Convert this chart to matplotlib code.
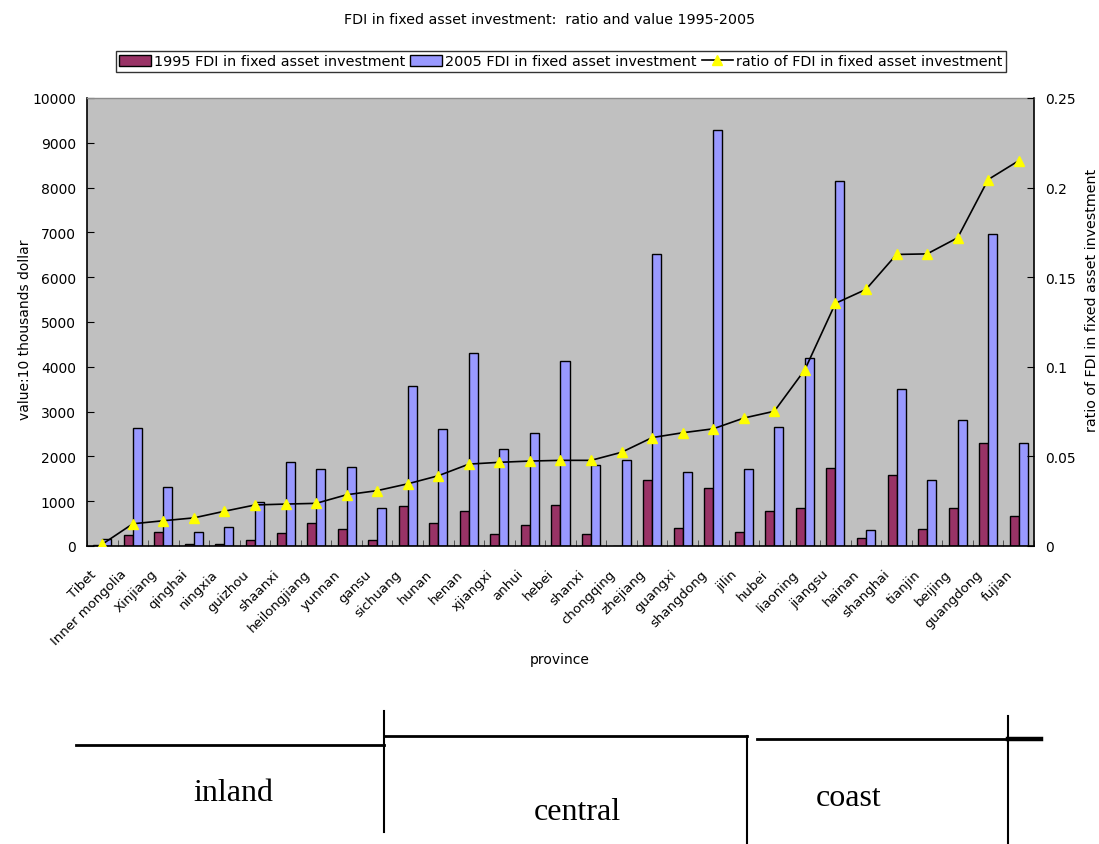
import matplotlib
matplotlib.use("Agg")
import matplotlib.pyplot as plt
import matplotlib.transforms as mtransforms
import numpy as np
from matplotlib.lines import Line2D
from matplotlib.patches import Patch
from matplotlib.ticker import FuncFormatter, MultipleLocator, FixedLocator

# Provinces ordered by the FDI share of fixed asset investment
provinces = ["Tibet", "Inner mongolia", "Xinjiang", "qinghai", "ningxia", "guizhou",
             "shaanxi", "heilongjiang", "yunnan", "gansu", "sichuang", "hunan", "henan",
             "xjiangxi", "anhui", "hebei", "shanxi", "chongqing", "zhejiang", "guangxi",
             "shangdong", "jilin", "hubei", "liaoning", "jiangsu", "hainan", "shanghai",
             "tianjin", "beijing", "guangdong", "fujian"]

# FDI in fixed asset investment, 10 thousand dollars
fdi_1995 = [20, 235, 320, 45, 50, 140, 300, 510, 380, 125, 895, 515, 778, 275, 470,
            908, 262, 0, 1472, 396, 1300, 308, 776, 856, 1750, 172, 1586, 385, 856,
            2300, 672]
fdi_2005 = [150, 2630, 1325, 308, 432, 990, 1870, 1727, 1765, 857, 3580, 2620, 4300,
            2168, 2516, 4130, 1818, 1922, 6525, 1647, 9295, 1727, 2665, 4192, 8152,
            352, 3498, 1481, 2814, 6965, 2302]

# Ratio of FDI in fixed asset investment
fdi_ratio = [0.001, 0.0124, 0.0141, 0.0157, 0.0194, 0.0229, 0.0234, 0.0238, 0.0286,
             0.0309, 0.0347, 0.0392, 0.0457, 0.0467, 0.0474, 0.0478, 0.0478, 0.0523,
             0.0605, 0.0632, 0.0654, 0.0714, 0.0752, 0.0984, 0.1354, 0.1432, 0.1627,
             0.1630, 0.1720, 0.2045, 0.2150]

regions = ["inland", "central", "coast"]

plt.rcParams["font.family"] = ["DejaVu Sans"]
W, H = 1099, 845
fig = plt.figure(figsize=(W / 100, H / 100), dpi=100)


def fx(px):
    return px / W


def fy(py):
    return 1 - py / H


ax = fig.add_axes([fx(87), fy(547), fx(1034) - fx(87), fy(99) - fy(547)])
ax.set_facecolor("#C0C0C0")

x = np.arange(len(provinces))
bw = 0.295
c95, c05 = "#993366", "#9999FF"
ax.bar(x - bw / 2, fdi_1995, width=bw, color=c95, edgecolor="black", linewidth=1.0, zorder=2)
ax.bar(x + bw / 2, fdi_2005, width=bw, color=c05, edgecolor="black", linewidth=1.0, zorder=2)

ax.set_xlim(-0.5, len(provinces) - 0.5)
ax.set_ylim(0, 10000)
ax.yaxis.set_major_locator(MultipleLocator(1000))

# Category names: slanted labels hung just left of each category centre
ax.set_xticks(x)
ax.set_xticklabels([])
label_tr = ax.get_xaxis_transform() + mtransforms.ScaledTranslation(
    -13 / 100, -21 / 100, fig.dpi_scale_trans)
for xi, name in zip(x, provinces):
    ax.text(xi, 0, name, transform=label_tr, rotation=45, ha="right", va="top",
            rotation_mode="anchor", fontsize=9.5, clip_on=False)

ax.xaxis.set_minor_locator(FixedLocator(np.arange(-0.5, len(provinces), 1.0)))
ax.tick_params(axis="x", which="major", length=0)
ax.tick_params(axis="x", which="minor", length=4, direction="in", color="#404040")
ax.tick_params(axis="y", direction="in", length=5, labelsize=10, pad=8)

for side in ("left", "right", "bottom"):
    ax.spines[side].set_color("black")
    ax.spines[side].set_linewidth(1.2)
ax.spines["top"].set_color("#8c8c8c")
ax.spines["top"].set_linewidth(1.0)

ax.set_ylabel("value:10 thousands dollar", fontsize=10)
ax.yaxis.set_label_coords(fx(32), fy(330), transform=fig.transFigure)
ax.set_xlabel("province", fontsize=10)
ax.xaxis.set_label_coords(fx(560), fy(653), transform=fig.transFigure)

ax2 = ax.twinx()
ax2.plot(x, fdi_ratio, color="black", linewidth=1.2, marker="^", markersize=7.5,
         markerfacecolor="#FFFF00", markeredgecolor="#FFFF00", zorder=3)
ax2.set_ylim(0, 0.25)
ax2.yaxis.set_major_locator(MultipleLocator(0.05))
ax2.yaxis.set_major_formatter(FuncFormatter(lambda v, p: "%g" % round(v, 2)))
ax2.tick_params(axis="y", direction="in", length=5, labelsize=10, pad=8)
ax2.set_ylabel("ratio of FDI in fixed asset investment", fontsize=10.3)
ax2.yaxis.set_label_coords(fx(1085), fy(300), transform=fig.transFigure)
for s in ax2.spines.values():
    s.set_visible(False)

fig.text(0.5, fy(20), "FDI in fixed asset investment:  ratio and value 1995-2005",
         ha="center", va="center", fontsize=10.3)

handles = [Patch(facecolor=c95, edgecolor="black", linewidth=1.0),
           Patch(facecolor=c05, edgecolor="black", linewidth=1.0),
           Line2D([], [], color="black", linewidth=1.2, marker="^", markersize=7,
                  markerfacecolor="#FFFF00", markeredgecolor="#FFFF00")]
labels = ["1995 FDI in fixed asset investment", "2005 FDI in fixed asset investment",
          "ratio of FDI in fixed asset investment"]
leg = fig.legend(handles, labels, loc="center", bbox_to_anchor=(fx(561), fy(62.5)),
                 ncol=3, fontsize=10.4, frameon=True, fancybox=False, handlelength=2.2,
                 handleheight=0.7, handletextpad=0.2, columnspacing=0.35, borderpad=0.25,
                 borderaxespad=0)
leg.get_frame().set_edgecolor("black")
leg.get_frame().set_linewidth(1.0)

# Regional grouping bracket drawn beneath the chart
segments = [
    ((76, 746), (384, 746), 2.0),
    ((384, 712), (384, 833), 1.5),
    ((384, 737), (747, 737), 2.0),
    ((747, 737), (747, 845), 1.5),
    ((757, 739.5), (1008, 739.5), 2.0),
    ((1008, 740), (1041, 740), 3.2),
    ((1008, 717), (1008, 845), 1.5),
]
for (x0, y0), (x1, y1), lw in segments:
    fig.add_artist(Line2D([fx(x0), fx(x1)], [fy(y0), fy(y1)], transform=fig.transFigure,
                          color="black", linewidth=lw))

region_pos = [(233, 801), (577, 820), (849, 806)]
for name, (px, py) in zip(regions, region_pos):
    fig.text(fx(px), fy(py), name, ha="center", va="baseline", fontsize=23,
             family="Liberation Serif")

fig.savefig("out.png", dpi=100)
